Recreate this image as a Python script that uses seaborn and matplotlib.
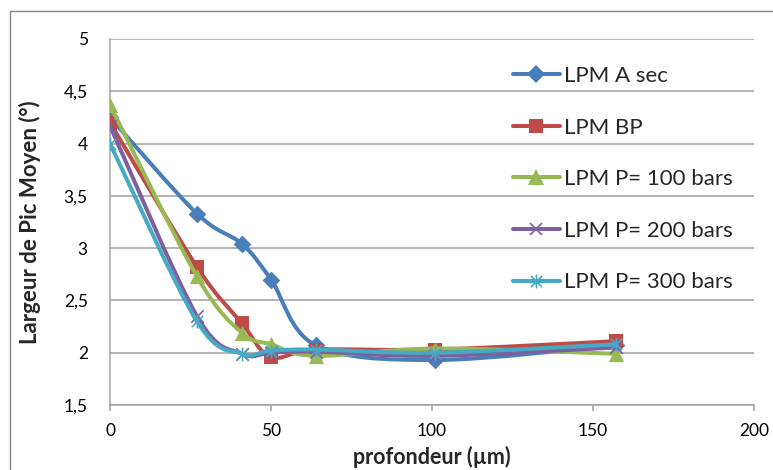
import numpy as np
import matplotlib
matplotlib.use("Agg")
import matplotlib.pyplot as plt
import seaborn as sns
from matplotlib.path import Path
from matplotlib.patches import PathPatch
from matplotlib.lines import Line2D

# donnees
profondeur = [0, 27, 41, 50, 64, 101, 157]
lpm_a_sec = [4.25, 3.33, 3.04, 2.70, 2.07, 1.93, 2.07]
lpm_bp = [4.20, 2.82, 2.28, 1.96, 2.03, 2.03, 2.11]
lpm_p100 = [4.37, 2.73, 2.19, 2.08, 1.97, 2.04, 1.99]
lpm_p200 = [4.17, 2.35, 1.99, 2.00, 2.01, 1.97, 2.05]
lpm_p300 = [4.00, 2.30, 1.99, 2.02, 2.03, 2.00, 2.08]

noms = ["LPM A sec", "LPM BP", "LPM P= 100 bars", "LPM P= 200 bars", "LPM P= 300 bars"]
series = [lpm_a_sec, lpm_bp, lpm_p100, lpm_p200, lpm_p300]
couleurs = ["#4A7EBB", "#BE4B48", "#98B954", "#7D60A0", "#46AAC5"]

yticks = [1.5, 2, 2.5, 3, 3.5, 4, 4.5, 5]
ytick_labels = ["1,5", "2", "2,5", "3", "3,5", "4", "4,5", "5"]
xticks = [0, 50, 100, 150, 200]

# marqueur etoile facon Excel : X + trait vertical
etoile = Path([(-1, -1), (1, 1), (-1, 1), (1, -1), (0, -1.25), (0, 1.25)],
              [Path.MOVETO, Path.LINETO, Path.MOVETO, Path.LINETO, Path.MOVETO, Path.LINETO])
marqueurs = ["D", "s", "^", "x", etoile]
tailles = [9, 10, 11, 9, 10]


def courbe_lissee(x, y):
    # courbe de Bezier type Catmull-Rom (lissage Excel)
    pts = np.column_stack([x, y]).astype(float)
    n = len(pts)
    verts = [pts[0]]
    codes = [Path.MOVETO]
    for i in range(n - 1):
        p0 = pts[i - 1] if i > 0 else pts[i]
        p1 = pts[i]
        p2 = pts[i + 1]
        p3 = pts[i + 2] if i + 2 < n else pts[i + 1]
        verts += [p1 + (p2 - p0) / 6, p2 - (p3 - p1) / 6, p2]
        codes += [Path.CURVE4] * 3
    return Path(verts, codes)


sns.set_style("white")
plt.rcParams["font.family"] = ["Lato", "DejaVu Sans"]

fig = plt.figure(figsize=(7.73, 4.70), dpi=100)
ax = fig.add_axes([110 / 773, 1 - 405 / 470, 644 / 773, 366 / 470])

for i, (nom, vals, c) in enumerate(zip(noms, series, couleurs)):
    patch = PathPatch(courbe_lissee(profondeur, vals), fill=False, edgecolor=c,
                      lw=2.9, capstyle="round", joinstyle="round", zorder=3 + 2 * i)
    ax.add_patch(patch)
    lw_m = 1.2 if i >= 3 else 0
    sns.scatterplot(x=profondeur, y=vals, ax=ax, marker=marqueurs[i], s=tailles[i] ** 2,
                    color=c, edgecolor=c, linewidth=lw_m, zorder=4 + 2 * i, legend=False)

ax.set_xlim(0, 200)
ax.set_ylim(1.5, 5)
ax.set_xticks(xticks)
ax.set_yticks(yticks)
ax.set_yticklabels(ytick_labels)
ax.grid(axis="y", color="#A0A0A0", lw=1.1, zorder=0)
ax.grid(axis="x", visible=False)
for s in ["top", "right"]:
    ax.spines[s].set_visible(False)
for s in ["left", "bottom"]:
    ax.spines[s].set_color("#A0A0A0")
    ax.spines[s].set_linewidth(1.1)
ax.tick_params(axis="both", which="major", direction="out", colors="#A0A0A0",
               labelcolor="black", labelsize=12.5, width=1.1)
ax.tick_params(axis="y", length=6, pad=10)
ax.tick_params(axis="x", length=4, pad=9, left=True, bottom=True)

ax.set_xlabel("profondeur (µm)", fontsize=15.5, fontweight="bold")
ax.xaxis.set_label_coords(0.5, -0.141)
ax.xaxis.label.set_va("center")
ax.set_ylabel("Largeur de Pic Moyen (°)", fontsize=16, fontweight="bold")
ax.yaxis.set_label_coords(-0.124, 0.5)
ax.yaxis.label.set_va("center")

poignees = [Line2D([], [], color=c, lw=2.9, marker=m, markersize=t,
                   markeredgewidth=1.2 if i >= 3 else 0, solid_capstyle="round")
            for i, (c, m, t) in enumerate(zip(couleurs, marqueurs, tailles))]
ax.legend(poignees, noms, loc="upper left", bbox_to_anchor=(0.626, 0.926),
          frameon=False, fontsize=16, handlelength=2.1, handletextpad=0.2,
          labelspacing=1.42, borderpad=0, borderaxespad=0)

# cadre du graphique
fig.add_artist(Line2D([10 / 773, 1], [1 - 11 / 470] * 2, color="#868686", lw=1))
fig.add_artist(Line2D([10 / 773] * 2, [0, 1 - 11 / 470], color="#868686", lw=1))

fig.savefig("out.png", dpi=100)
